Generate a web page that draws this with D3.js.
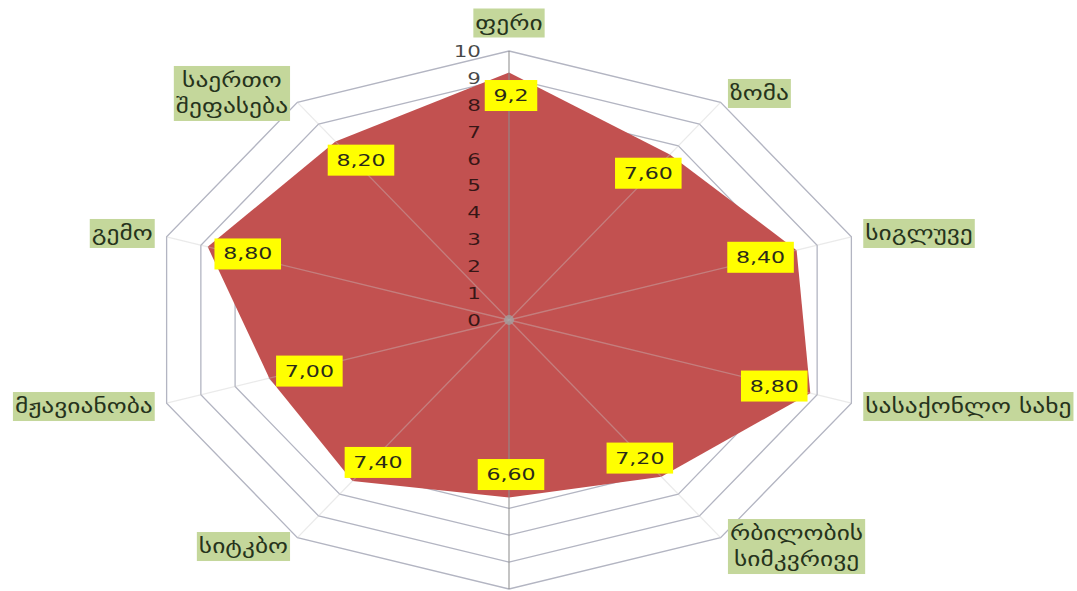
<!DOCTYPE html>
<html>
<head>
<meta charset="utf-8">
<script src="https://cdn.jsdelivr.net/npm/d3@7"></script>
<style>
  html, body { margin: 0; padding: 0; background: #ffffff; }
  svg { display: block; }
</style>
</head>
<body>
<svg id="chart" width="1077" height="591"></svg>
<script>
// Axis names, clockwise from the top ("\n" splits a name over two lines)
const categories = [
  "ფერი", "ზომა", "სიგლუვე", "სასაქონლო სახე", "რბილობის\nსიმკვრივე",
  "", "სიტკბო", "მჟავიანობა", "გემო", "საერთო\nშეფასება"
];
// Scores per axis
const values = [9.2, 7.6, 8.4, 8.8, 7.2, 6.6, 7.4, 7.0, 8.8, 8.2];
// Value labels as printed on the chart
const valueLabels = ["9,2", "7,60", "8,40", "8,80", "7,20", "6,60", "7,40", "7,00", "8,80", "8,20"];
// Radial axis ticks
const ticks = [0, 1, 2, 3, 4, 5, 6, 7, 8, 9, 10];

const svg = d3.select("#chart");
const cx = 509, cy = 320;
const stretch = 360 / 269;          // horizontal stretch of the whole chart

const n = categories.length;
const rX = d3.scaleLinear().domain([0, 10]).range([0, 360]);
const rY = d3.scaleLinear().domain([0, 10]).range([0, 269]);
const angle = d3.scaleLinear().domain([0, n]).range([0, 2 * Math.PI]);

function pt(i, v) {
  const a = angle(i);
  return [cx + rX(v) * Math.sin(a), cy - rY(v) * Math.cos(a)];
}
const line = d3.line().curve(d3.curveLinearClosed);

// Concentric grid polygons
const grid = svg.append("g");
grid.selectAll("path.ring")
  .data(ticks.filter(t => t > 0))
  .join("path")
  .attr("class", "ring")
  .attr("d", t => line(d3.range(n).map(i => pt(i, t))))
  .attr("fill", "none")
  .attr("stroke", "#b3b5c2")
  .attr("stroke-width", 1.3);

// Filled series
svg.append("path")
  .attr("d", line(values.map((v, i) => pt(i, v))))
  .attr("fill", "#c25150");

// Radial spokes (drawn over the fill)
svg.append("g").selectAll("line")
  .data(d3.range(n))
  .join("line")
  .attr("x1", cx).attr("y1", cy)
  .attr("x2", i => pt(i, 10)[0])
  .attr("y2", i => pt(i, 10)[1])
  .attr("stroke", i => i === 0 || i === 5 ? "#8e8e8e" : "#c8c8c8")
  .attr("stroke-opacity", i => i === 0 || i === 5 ? 0.8 : 0.38)
  .attr("stroke-width", 1.3);

// Centre point
svg.append("circle")
  .attr("cx", cx).attr("cy", cy).attr("r", 5)
  .attr("fill", "#a0a0a0").attr("opacity", 0.75);

// Tick labels along the vertical axis
svg.append("g").selectAll("text")
  .data(ticks)
  .join("text")
  .attr("transform", t => `translate(${cx - 28},${cy - rY(t)}) scale(${stretch},1)`)
  .attr("text-anchor", "end")
  .attr("dominant-baseline", "central")
  .attr("font-family", "DejaVu Sans, sans-serif")
  .attr("font-size", 16)
  .attr("fill", "#000")
  .attr("fill-opacity", 0.72)
  .text(t => t);

// Yellow value labels, placed just inside each vertex
const vl = svg.append("g").selectAll("g")
  .data(values.map((v, i) => ({ v, i, label: valueLabels[i] })))
  .join("g")
  .attr("transform", d => {
    const [x, y] = pt(d.i, d.v);
    const a = angle(d.i);
    const lx = x - 40 * Math.sin(a) + 2;
    const ly = y + 23 * Math.cos(a);
    return `translate(${lx},${ly}) scale(${stretch},1)`;
  });
vl.append("text")
  .attr("text-anchor", "middle")
  .attr("dominant-baseline", "central")
  .attr("font-family", "DejaVu Sans, sans-serif")
  .attr("font-size", 16.5)
  .attr("fill", "#2a2a1a")
  .text(d => d.label);
vl.each(function () {
  const g = d3.select(this);
  const b = g.select("text").node().getBBox();
  g.insert("rect", "text")
    .attr("x", b.x - 6.5).attr("y", -15.5)
    .attr("width", b.width + 13).attr("height", 31)
    .attr("fill", "#ffff00");
});

// Category labels on green boxes outside the outer ring;
// lines are centred inside each box, the box hugs the ring on its inner side
const cl = svg.append("g").selectAll("g")
  .data(categories.map((name, i) => ({ name, i })).filter(d => d.name))
  .join("g")
  .attr("transform", d => {
    const [x, y] = pt(d.i, 10);
    const a = angle(d.i);
    const s = Math.sin(a), c = Math.cos(a);
    if (Math.abs(s) < 1e-6) return `translate(${x},${y - 28}) scale(${stretch},1)`;
    return `translate(${x + Math.sign(s) * 12.5 * Math.abs(s)},${y - 11 * c}) scale(${stretch},1)`;
  });
cl.each(function (d) {
  const outer = d3.select(this);
  const g = outer.append("g");
  const s = Math.sin(angle(d.i));
  const lines = d.name.split("\n");
  const lh = 26;
  const t = g.append("text")
    .attr("text-anchor", "middle")
    .attr("font-family", "DejaVu Sans, sans-serif")
    .attr("font-size", 19)
    .attr("fill", "#26331c");
  lines.forEach((ln, k) => {
    t.append("tspan")
      .attr("x", 0)
      .attr("y", (k - (lines.length - 1) / 2) * lh)
      .attr("dominant-baseline", "central")
      .text(ln);
  });
  const b = t.node().getBBox();
  const w = b.width + 3;
  g.insert("rect", "text")
    .attr("x", -w / 2)
    .attr("y", -(lines.length * lh + 3) / 2)
    .attr("width", w)
    .attr("height", lines.length * lh + 3)
    .attr("fill", "#c4d79b");
  const shift = Math.abs(s) < 1e-6 ? 0 : Math.sign(s) * w / 2;
  g.attr("transform", `translate(${shift},0)`);
});
</script>
</body>
</html>
